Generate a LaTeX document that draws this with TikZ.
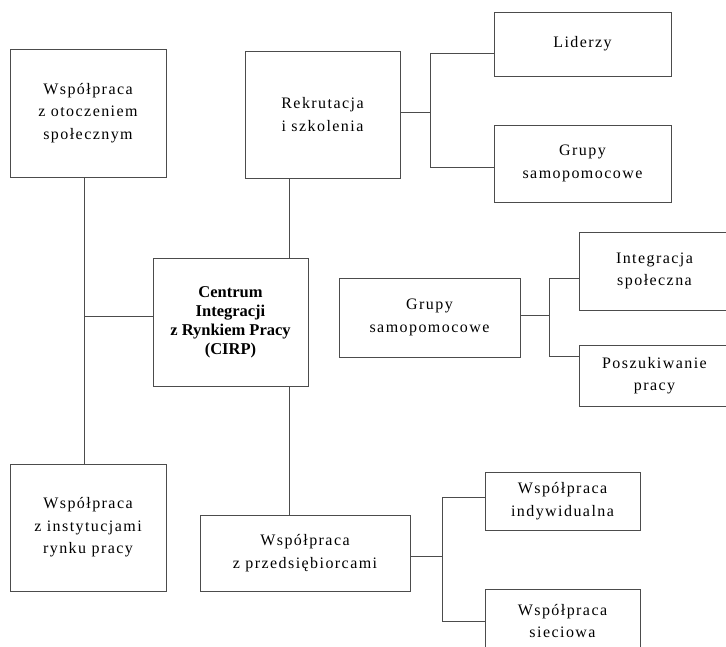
\documentclass[tikz,border=0pt]{standalone}
\usepackage{fontspec}
\setmainfont{Liberation Serif}
\newfontfamily\boxfont[LetterSpace=9]{Liberation Serif}
\begin{document}
\begin{tikzpicture}[x=1pt,y=-1pt,
  box/.style={draw=black!70, line width=1pt, fill=white, inner sep=2pt,
    align=center, font={\boxfont\fontsize{16}{22.5}\selectfont}},
  bbox/.style={box, font={\bfseries\fontsize{16.5}{19}\selectfont}},
  link/.style={draw=black!70, line width=1pt}]
\useasboundingbox (0,0) rectangle (726,646);
\clip (0,0) rectangle (726,646);

% boxes
\node[box, minimum width=156pt, minimum height=128pt] (otocz) at (88,113)
  {Współpraca\\z otoczeniem\\społecznym};
\node[box, minimum width=155pt, minimum height=127pt] (rekr) at (322.5,114.5)
  {Rekrutacja\\i szkolenia};
\node[box, minimum width=177pt, minimum height=64pt] (lider) at (582.5,44)
  {Liderzy};
\node[box, minimum width=177pt, minimum height=77pt] (grupyA) at (582.5,163.5)
  {Grupy\\samopomocowe};
\node[bbox, minimum width=155pt, minimum height=128pt] (cirp) at (230.5,322)
  {Centrum\\Integracji\\z Rynkiem Pracy\\(CIRP)};
\node[box, minimum width=181pt, minimum height=79pt] (grupyB) at (429.5,317.5)
  {Grupy\\samopomocowe};
\node[box, minimum width=151pt, minimum height=78pt] (integ) at (654.5,271)
  {Integracja\\społeczna};
\node[box, minimum width=151pt, minimum height=61pt] (poszuk) at (654.5,375.5)
  {Poszukiwanie\\pracy};
\node[box, minimum width=156pt, minimum height=127pt] (instyt) at (88,527.5)
  {Współpraca\\z instytucjami\\rynku pracy};
\node[box, minimum width=210pt, minimum height=76pt] (przeds) at (305,553)
  {Współpraca\\z przedsiębiorcami};
\node[box, minimum width=155pt, minimum height=58pt] (indyw) at (562.5,501)
  {Współpraca\\indywidualna};
\node[box, minimum width=155pt, minimum height=64pt] (siec) at (562.5,621)
  {Współpraca\\sieciowa};

% junction points of the connectors
\coordinate (jOt) at (84,316);
\coordinate (jC) at (289,0);
\coordinate (jRa) at (430,53);
\coordinate (jRb) at (430,167);
\coordinate (jRm) at (430,112);
\coordinate (jGa) at (549,278);
\coordinate (jGb) at (549,356);
\coordinate (jGm) at (549,315);
\coordinate (jPa) at (442,497);
\coordinate (jPb) at (442,621);
\coordinate (jPm) at (442,556);

% left branch
\draw[link] (otocz.south -| jOt) -- (instyt.north -| jOt);
\draw[link] (jOt) -- (cirp.west |- jOt);

% central spine
\draw[link] (rekr.south -| jC) -- (cirp.north -| jC);
\draw[link] (cirp.south -| jC) -- (przeds.north -| jC);

% recruitment branch
\draw[link] (rekr.east |- jRm) -- (jRm);
\draw[link] (jRa) -- (jRb);
\draw[link] (jRa) -- (lider.west |- jRa);
\draw[link] (jRb) -- (grupyA.west |- jRb);

% self-help group branch
\draw[link] (grupyB.east |- jGm) -- (jGm);
\draw[link] (jGa) -- (jGb);
\draw[link] (jGa) -- (integ.west |- jGa);
\draw[link] (jGb) -- (poszuk.west |- jGb);

% employer branch
\draw[link] (przeds.east |- jPm) -- (jPm);
\draw[link] (jPa) -- (jPb);
\draw[link] (jPa) -- (indyw.west |- jPa);
\draw[link] (jPb) -- (siec.west |- jPb);
\end{tikzpicture}
\end{document}
